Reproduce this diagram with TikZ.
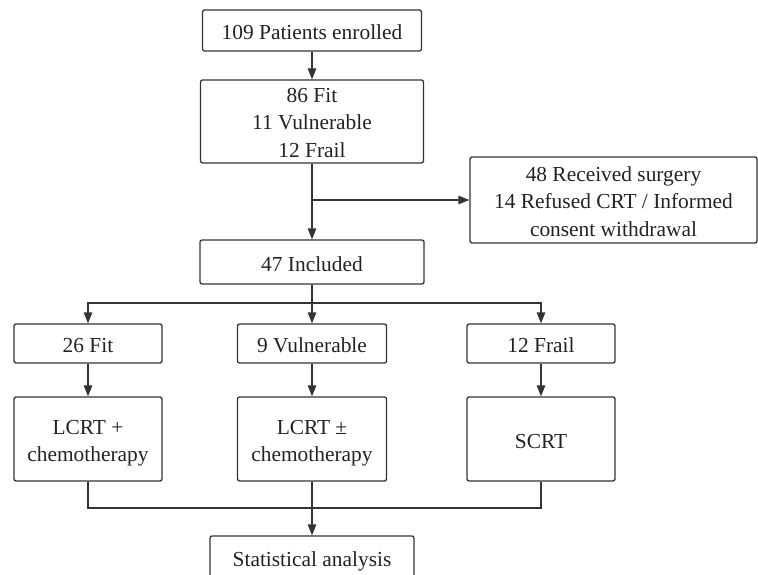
\documentclass[tikz,border=0pt]{standalone}
\usepackage{fontspec}
\setmainfont{Liberation Serif}
\usetikzlibrary{arrows.meta}
\definecolor{linec}{HTML}{333333}
\definecolor{textc}{HTML}{222222}
\begin{document}
\begin{tikzpicture}[x=1pt,y=-1pt,
 box/.style={draw=linec, line width=1.3pt, rounded corners=2pt, inner sep=0pt},
 txt/.style={align=center, font=\fontsize{21.4}{27.5}\selectfont, text=textc, inner sep=0pt},
 arr/.style={draw=linec, line width=1.3pt, -{Triangle[length=11pt,width=8.5pt]}},
 ln/.style={draw=linec, line width=1.3pt}]
\useasboundingbox (0,0) rectangle (758,575);
\clip (0,0) rectangle (758,575);
% boxes
\node[box, minimum width=219pt, minimum height=41pt] (enr) at (312,30.5) {};
\node[box, minimum width=223pt, minimum height=83pt] (grp) at (312,121.5) {};
\node[box, minimum width=287pt, minimum height=86pt] (exc) at (613.5,200) {};
\node[box, minimum width=224pt, minimum height=44pt] (inc) at (312,262) {};
\node[box, minimum width=148pt, minimum height=39pt] (fit) at (88,343.5) {};
\node[box, minimum width=149pt, minimum height=39pt] (vul) at (312,343.5) {};
\node[box, minimum width=148pt, minimum height=39pt] (fra) at (541,343.5) {};
\node[box, minimum width=148pt, minimum height=84pt] (t1) at (88,439) {};
\node[box, minimum width=149pt, minimum height=84pt] (t2) at (312,439) {};
\node[box, minimum width=148pt, minimum height=84pt] (t3) at (541,439) {};
\node[box, minimum width=204pt, minimum height=46pt] (stat) at (312,559) {};
% texts
\node[txt] (enr-t) at ([yshift=-1.8pt]enr.center) {109 Patients enrolled};
\node[txt] (grp-t) at ([yshift=-1.2pt]grp.center) {86 Fit\\11 Vulnerable\\12 Frail};
\node[txt] (exc-t) at ([yshift=-1.5pt]exc.center) {48 Received surgery\\14 Refused CRT / Informed\\consent withdrawal};
\node[txt] (inc-t) at ([yshift=-2pt]inc.center) {47 Included};
\node[txt] (fit-t) at ([yshift=-2pt]fit.center) {26 Fit};
\node[txt] (vul-t) at ([yshift=-2pt]vul.center) {9 Vulnerable};
\node[txt] (fra-t) at ([yshift=-2pt]fra.center) {12 Frail};
\node[txt] (t1-t) at ([yshift=-4pt]t1.center) {LCRT +\\chemotherapy};
\node[txt] (t2-t) at ([yshift=-4pt]t2.center) {LCRT ±\\chemotherapy};
\node[txt] (t3-t) at ([yshift=-2.5pt]t3.center) {SCRT};
\node[txt] (stat-t) at ([yshift=-2pt]stat.center) {Statistical analysis};
% connectors
\coordinate (sj) at (312,200);
\coordinate (bj) at (312,303);
\coordinate (mj) at (312,508);
\draw[arr] (enr.south) -- (grp.north);
\draw[arr] (grp.south) -- (inc.north);
\draw[arr] (sj) -- (exc.west);
\draw[ln] (inc.south) -- (bj);
\draw[arr] (bj) -| (fit.north);
\draw[arr] (bj) -| (fra.north);
\draw[arr] (bj) -- (vul.north);
\draw[arr] (fit.south) -- (t1.north);
\draw[arr] (vul.south) -- (t2.north);
\draw[arr] (fra.south) -- (t3.north);
\draw[ln] (t1.south) |- (mj) -| (t3.south);
\draw[arr] (t2.south) -- (stat.north);
\end{tikzpicture}
\end{document}
